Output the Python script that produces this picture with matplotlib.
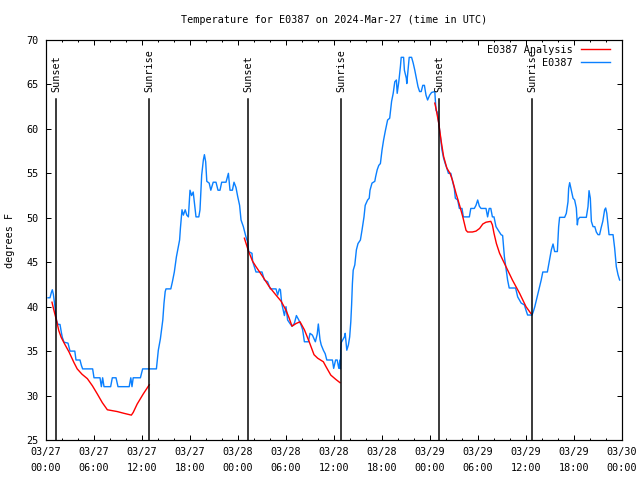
import matplotlib
matplotlib.use("Agg")
import matplotlib.pyplot as plt
import numpy as np

# ---------------- data (hours since 03/27 00:00 UTC, degrees F) ----------------
obs_hours = [
    0.25, 0.5, 0.67, 0.79, 0.92, 1.08, 1.21, 1.33, 1.5, 1.75, 1.92, 2.04, 2.25, 2.75, 3.0, 3.6, 3.75,
    4.25, 4.42, 4.58, 5.83, 6.0, 6.75, 6.92, 7.08, 7.25, 8.08, 8.29, 8.75, 9.0, 10.4, 10.6, 10.75,
    10.9, 11.8, 12.08,
    13.8, 14.04, 14.3, 14.6, 14.75, 14.9, 15.0, 15.6, 15.8, 16.04, 16.3, 16.7, 16.8, 17.0, 17.17,
    17.4, 17.6, 17.8, 18.0, 18.2, 18.4, 18.5, 18.75, 19.1, 19.25, 19.46, 19.67, 19.8, 19.96, 20.1,
    20.4, 20.6, 20.9, 21.25, 21.5, 21.75, 21.96, 22.5, 22.8, 23.0, 23.3, 23.5, 23.75, 23.96, 24.2,
    24.38, 24.67, 24.92, 25.08, 25.21, 25.33, 25.75, 25.83, 26.25, 27.0, 27.3, 27.7, 28.04, 28.75,
    28.96, 29.17, 29.3, 29.46, 29.8, 30.0, 30.2, 30.5, 30.75, 31.04, 31.3, 31.6, 31.9, 32.08, 32.3,
    32.8, 33.0, 33.3, 33.67, 33.9, 34.04, 34.25, 34.4, 34.67, 34.9, 35.1, 35.8, 35.96, 36.2, 36.4,
    36.6, 36.75, 36.8, 36.85,
    36.9, 37.3, 37.4, 37.6, 37.8, 37.96, 38.1, 38.2, 38.3, 38.4, 38.6, 38.8, 39.0, 39.3, 39.5, 39.75,
    39.9, 40.2, 40.4, 40.5, 40.75, 41.1, 41.2, 41.4, 41.6, 41.8, 42.0, 42.2, 42.4, 42.7, 42.96, 43.2,
    43.4, 43.6, 43.8, 43.9, 44.1, 44.3, 44.4, 44.7, 44.8, 45.04, 45.1, 45.25, 45.4, 45.7, 45.9, 46.1,
    46.3, 46.5, 46.7, 46.9, 47.1, 47.3, 47.5, 47.7, 47.96, 48.2, 48.6,
    48.75, 48.9, 49.1, 49.25, 49.4, 49.5, 49.7, 49.9, 50.1, 50.3, 50.6, 50.83, 51.04, 51.17, 51.46,
    51.67, 52.0, 52.17, 52.92, 53.1, 53.54, 53.75, 53.96, 54.17, 54.38, 55.0, 55.2, 55.4, 55.6, 55.8,
    56.0, 56.25, 56.88, 57.08, 57.3, 57.5, 57.7, 57.9, 58.7, 58.96, 59.4, 59.8, 60.0, 60.2, 60.75,
    60.9, 61.1, 61.3, 61.5, 61.7, 61.9, 62.1, 62.67, 62.83, 63.0, 63.17, 63.38, 63.58, 63.92, 64.08,
    64.2, 64.83, 65.04, 65.25, 65.33, 65.46, 65.67, 65.88, 66.08, 66.29, 66.42, 66.5, 66.71, 67.54,
    67.75, 67.88, 68.04, 68.17, 68.38, 68.6, 68.79, 69.0, 69.2, 69.4, 69.6, 69.83, 69.96, 70.1, 70.38,
    70.88, 71.08, 71.29, 71.5, 71.7,
]
obs_temps = [
    41.0, 41.0, 41.6, 41.9, 41.4, 40.3, 39.2, 38.4, 38.0, 38.0, 37.1, 36.55, 36.0, 35.9, 35.0, 35.0, 34.0,
    34.0, 33.4, 33.0, 33.0, 32.0, 32.0, 31.0, 32.0, 31.0, 31.0, 32.0, 32.0, 31.0, 31.0, 32.0, 31.0,
    32.0, 32.0, 33.0,
    33.0, 35.1, 36.4, 38.5, 40.4, 41.7, 42.0, 42.0, 42.8, 43.9, 45.6, 47.5, 48.8, 50.9, 50.3,
    50.9, 50.3, 50.1, 53.1, 52.5, 52.9, 52.1, 50.1, 50.1, 50.9, 54.8, 56.5, 57.1, 56.3, 54.1,
    53.9, 53.1, 54.0, 54.0, 53.1, 53.1, 54.0, 54.0, 55.0, 53.1, 53.1, 54.0, 53.4, 52.4, 51.4,
    49.75, 49.0, 48.1, 47.6, 47.3, 46.2, 46.0, 45.1, 43.9, 43.9, 43.0, 42.8, 42.0, 42.0,
    41.3, 42.0, 41.9, 40.4, 39.0, 40.0, 38.5, 38.1, 37.8, 38.1, 39.0, 38.5, 37.9, 37.4, 36.05,
    36.05, 37.0, 36.8, 36.05, 36.9, 38.05, 36.3, 35.7, 35.1, 34.7, 34.0, 34.0, 33.06, 34.0, 34.0,
    33.06, 34.0, 33.0, 35.3,
    35.95, 36.6, 37.0, 35.1, 35.7, 36.6, 38.3, 40.2, 42.6, 44.1, 44.7, 46.4, 47.1, 47.5, 48.6, 50.1,
    51.4, 52.0, 52.2, 53.1, 53.9, 54.1, 54.6, 55.4, 55.9, 56.1, 57.6, 58.75, 59.7, 61.0, 61.2, 63.1,
    64.0, 65.3, 65.5, 64.0, 65.3, 67.0, 68.05, 68.05, 66.6, 65.7, 65.1, 66.6, 68.05, 68.05, 67.4, 66.6,
    65.7, 64.75, 64.2, 64.2, 64.9, 64.9, 63.8, 63.25, 63.8, 64.1, 64.2,
    62.1, 61.9, 60.6, 59.5, 58.4, 57.6, 56.7, 56.1, 55.6, 55.0, 55.0, 54.06, 53.3, 52.2, 52.0,
    51.05, 51.05, 50.1, 50.1, 51.05, 51.05, 51.4, 52.0, 51.3, 51.05, 51.05, 50.1, 51.05, 51.05, 50.1,
    50.1, 49.0, 48.1, 48.0, 45.6, 44.3, 43.0, 42.1, 42.1, 41.1, 40.4, 40.2, 39.6, 39.06, 39.06,
    39.4, 40.0, 40.75, 41.5, 42.25, 43.0, 43.9, 43.9, 44.7, 45.6, 46.4, 47.05, 46.2, 46.2, 49.0,
    50.05, 50.05, 50.5, 51.8, 53.3, 53.95, 53.1, 52.2, 52.0, 51.1, 49.2, 49.8, 50.05, 50.05,
    51.25, 53.05, 52.2, 49.6, 49.0, 49.0, 48.4, 48.1, 48.1, 48.9, 49.6, 50.9, 51.1, 50.5, 48.1,
    48.1, 46.6, 44.5, 43.6, 43.0,
]

ana1_hours = [0.75, 1.0, 1.33, 1.6, 1.9, 2.33, 2.88, 3.5, 3.9, 4.5, 5.17, 5.8, 6.4, 7.04, 7.67,
              8.29, 8.9, 9.75, 10.67, 10.9, 11.4, 12.17, 12.9]
ana1_temps = [40.5, 39.55, 38.4, 37.3, 36.55, 35.8, 34.9, 33.7, 33.0, 32.4, 31.9, 31.1, 30.2, 29.2, 28.4,
              28.3, 28.2, 28.0, 27.8, 28.1, 29.05, 30.2, 31.2]
ana2_hours = [24.8, 25.33, 25.83, 26.25, 27.08, 27.9, 28.75, 29.4, 30.0, 30.4, 30.75, 31.25, 31.75,
              32.3, 32.9, 33.5, 33.96, 34.67, 35.0, 35.6, 36.25, 36.75]
ana2_temps = [47.7, 46.2, 45.1, 44.5, 43.4, 42.25, 41.3, 40.6, 39.6, 38.7, 37.8, 38.1, 38.3,
              37.4, 36.05, 34.6, 34.2, 33.8, 33.25, 32.3, 31.8, 31.45]
ana3_hours = [48.6, 48.75, 49.1, 49.4, 49.7, 50.1, 50.5, 50.8, 51.25, 51.7, 52.1, 52.5, 52.7, 53.3,
              53.75, 54.2, 54.6, 55.0, 55.6, 55.8, 56.0, 56.3, 56.7, 57.1, 57.5, 58.3, 59.2, 60.0, 60.6]
ana3_temps = [62.9, 62.3, 60.6, 58.6, 56.9, 55.6, 55.0, 54.25, 52.75, 51.4, 50.1, 48.6, 48.4, 48.4,
              48.5, 48.8, 49.3, 49.5, 49.6, 49.2, 48.25, 47.1, 46.0, 45.25, 44.5, 43.0, 41.5, 40.0, 39.25]

sun_hours = [1.29, 12.92, 25.29, 36.88, 49.18, 60.79]
sun_labels = ["Sunset", "Sunrise", "Sunset", "Sunrise", "Sunset", "Sunrise"]

tick_hours = [0, 6, 12, 18, 24, 30, 36, 42, 48, 54, 60, 66, 72]
tick_labels = ["03/27\n00:00", "03/27\n06:00", "03/27\n12:00", "03/27\n18:00",
               "03/28\n00:00", "03/28\n06:00", "03/28\n12:00", "03/28\n18:00",
               "03/29\n00:00", "03/29\n06:00", "03/29\n12:00", "03/29\n18:00",
               "03/30\n00:00"]
y_ticks = [25, 30, 35, 40, 45, 50, 55, 60, 65, 70]

title = "Temperature for E0387 on 2024-Mar-27 (time in UTC)"
ylabel = "degrees F"
ana_name = "E0387 Analysis"
obs_name = "E0387"

# ---------------- drawing ----------------
FONT = "DejaVu Sans Mono"
FS = 7.3
plt.rcParams["font.family"] = FONT
plt.rcParams["font.size"] = FS

W, H = 640, 480
fig = plt.figure(figsize=(W / 100, H / 100), dpi=100)
L, R, T, B = 46, 622, 40, 440
ax = fig.add_axes([L / W, 1 - B / H, (R - L) / W, (B - T) / H])

px = 0.72
red = "#ff0000"
blue = "#0a80ff"

ax.plot(ana1_hours, ana1_temps, color=red, lw=1.4 * px, label=ana_name, zorder=3)
ax.plot(ana2_hours, ana2_temps, color=red, lw=1.4 * px, zorder=3)
ax.plot(ana3_hours, ana3_temps, color=red, lw=1.4 * px, zorder=3)
ax.plot(obs_hours, obs_temps, color=blue, lw=1.4 * px, label=obs_name, zorder=2)

ax.set_xlim(0, 72)
ax.set_ylim(25, 70)

line_top = (B - 99) / (B - T)
text_bottom = (B - 92) / (B - T)
for h, lab in zip(sun_hours, sun_labels):
    ax.axvline(h, ymin=0, ymax=line_top, color="black", lw=1.5 * px, zorder=4)
    ax.text(h, text_bottom, lab, rotation=90, ha="center", va="bottom",
            transform=ax.get_xaxis_transform(), fontsize=FS, zorder=5)

ax.set_xticks(tick_hours)
ax.set_xticklabels(tick_labels, linespacing=1.75)
ax.set_xticks(np.arange(0, 73, 2), minor=True)
ax.set_yticks(y_ticks)
ax.set_yticklabels([str(v) for v in y_ticks])

ax.tick_params(axis="both", which="major", direction="in", length=5 * px, width=px,
               top=True, right=True, labelsize=FS)
ax.tick_params(axis="both", which="minor", direction="in", length=2.5 * px, width=px,
               top=True, right=True)
ax.tick_params(axis="x", which="major", pad=5.0)
ax.tick_params(axis="y", which="major", pad=5.5)
for s in ax.spines.values():
    s.set_linewidth(1.2 * px)

leg = ax.legend(loc="upper right", bbox_to_anchor=((610 - L) / (R - L), (B - 45) / (B - T)),
                frameon=False, markerfirst=False, borderaxespad=0, borderpad=0,
                handlelength=2.85, handletextpad=0.8, labelspacing=0.3, fontsize=FS)

fig.text((L + R) / 2 / W, 1 - 20 / H, title, ha="center", va="center", fontsize=FS)
fig.text(10 / W, 1 - 240 / H, ylabel, rotation=90, ha="center", va="center", fontsize=FS)

fig.savefig("out.png", dpi=100)
